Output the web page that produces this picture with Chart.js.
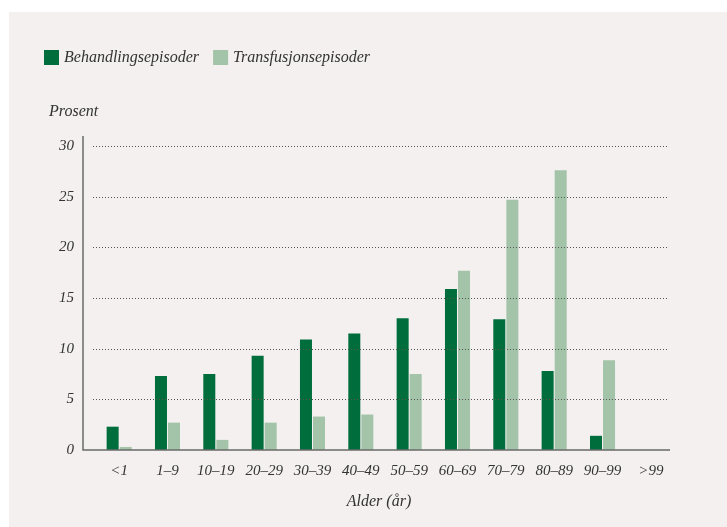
<!DOCTYPE html>
<html>
<head>
<meta charset="utf-8">
<script src="https://cdn.jsdelivr.net/npm/chart.js@4"></script>
<style>
	body { margin: 0; background: #fff; }
	#panel { position: absolute; left: 9px; top: 12px; width: 718px; height: 515px; background: #f3f0ef; }
	#chart { display: block; }
</style>
</head>
<body>
<div id="panel"><canvas id="chart" width="718" height="515"></canvas></div>
<script>
const ageGroups = ["<1", "1–9", "10–19", "20–29", "30–39", "40–49", "50–59", "60–69", "70–79", "80–89", "90–99", ">99"];
const behandling = [2.3, 7.3, 7.5, 9.3, 10.9, 11.5, 13.0, 15.9, 12.9, 7.8, 1.4, 0];
const transfusjon = [0.3, 2.7, 1.0, 2.7, 3.3, 3.5, 7.5, 17.7, 24.7, 27.6, 8.85, 0];
const seriesNames = ["Behandlingsepisoder", "Transfusjonsepisoder"];
const seriesColors = ["#006e3c", "#a3c4a9"];
const yTicks = [0, 5, 10, 15, 20, 25, 30];

const font = "'Liberation Serif', serif";
const textColor = "#333";

// axes, dotted grid, legend and titles drawn by hand
const decorations = {
	id: "decorations",
	afterDatasetsDraw(chart) {
		const ctx = chart.ctx;
		const area = chart.chartArea;
		const y = chart.scales.y;
		ctx.save();

		// dotted gridlines on top of bars
		ctx.strokeStyle = "#555";
		ctx.lineWidth = 1;
		ctx.setLineDash([1, 2]);
		yTicks.forEach((v) => {
			if (v === 0) return;
			const py = Math.round(y.getPixelForValue(v)) + 0.5;
			ctx.beginPath();
			ctx.moveTo(area.left - 2, py);
			ctx.lineTo(area.right - 7, py);
			ctx.stroke();
		});
		ctx.setLineDash([]);

		// axis lines
		ctx.strokeStyle = "#6a6a6a";
		ctx.lineWidth = 1.5;
		const x0 = area.left - 12;
		const yb = y.getPixelForValue(0);
		ctx.beginPath();
		ctx.moveTo(x0, area.top - 10);
		ctx.lineTo(x0, yb);
		ctx.lineTo(area.right - 5, yb);
		ctx.stroke();

		// legend
		ctx.font = "italic 16px " + font;
		ctx.textBaseline = "middle";
		ctx.textAlign = "left";
		let lx = 35;
		chart.data.datasets.forEach((ds) => {
			ctx.fillStyle = ds.backgroundColor;
			ctx.fillRect(lx, 38, 15, 15);
			ctx.fillStyle = textColor;
			ctx.fillText(ds.label, lx + 20, 46);
			lx += 20 + ctx.measureText(ds.label).width + 14;
		});

		// axis titles
		ctx.fillText("Prosent", 40, 100);
		ctx.textAlign = "center";
		ctx.fillText("Alder (år)", 370, 490);
		ctx.restore();
	},
};

new Chart(document.getElementById("chart"), {
	type: "bar",
	data: {
		labels: ageGroups,
		datasets: [
			{
				label: seriesNames[0],
				data: behandling,
				backgroundColor: seriesColors[0],
				categoryPercentage: 0.54,
				barPercentage: 0.92,
			},
			{
				label: seriesNames[1],
				data: transfusjon,
				backgroundColor: seriesColors[1],
				categoryPercentage: 0.54,
				barPercentage: 0.92,
			},
		],
	},
	options: {
		responsive: false,
		animation: false,
		layout: { padding: { left: 0, top: 134, right: 52, bottom: 0 } },
		plugins: {
			legend: { display: false },
			tooltip: { enabled: false },
		},
		scales: {
			x: {
				grid: { display: false, drawTicks: false },
				border: { display: false },
				ticks: {
					color: textColor,
					padding: 12,
					font: { family: font, style: "italic", size: 15 },
				},
				afterFit: (scale) => { scale.height = 77; },
			},
			y: {
				min: 0,
				max: 30,
				afterBuildTicks: (scale) => { scale.ticks = yTicks.map((v) => ({ value: v })); },
				grid: { display: false, drawTicks: false },
				border: { display: false },
				ticks: {
					color: textColor,
					padding: 21,
					font: { family: font, style: "italic", size: 15 },
				},
				afterFit: (scale) => { scale.width = 86; },
			},
		},
	},
	plugins: [decorations],
});
</script>
</body>
</html>
